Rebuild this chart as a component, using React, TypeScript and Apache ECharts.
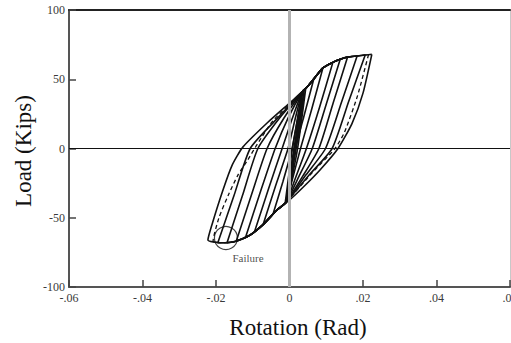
import { useEffect, useRef } from "react";
import * as echarts from "echarts";

// Axis tick labels (leading zero dropped, as in the original plot)
const xTickLabels = ["-.06", "-.04", "-.02", "0", ".02", ".04", ".06"];
const yTickLabels = ["-100", "-50", "0", "50", "100"];

// Hysteresis cycles, rotation (rad) vs. load (kips)
const elasticA = [[0.004, 42], [0.0012, 0], [-0.001, -39.5], [0.0018, 0], [0.004, 42]];
const elasticB = [[0.0036, 41], [0.0008, 0], [-0.0012, -40], [0.0014, 0], [0.0036, 41]];
const elasticC = [[0.0044, 43], [0.0016, 0], [-0.0006, -38], [0.0022, 0], [0.0044, 43]];

const cycle2 = [[0.0066, 50.2], [0.004, 24], [0.0016, 0], [0.0003, -20], [-0.001, -39], [-0.0034, -44.4], [-0.0045, -47.5], [-0.0018, -24], [0.0007, 0], [0.0022, 22], [0.0035, 41], [0.0048, 44.4], [0.0066, 50.2]];
const cycle3 = [[0.0091, 58.2], [0.006, 28], [0.003, 0], [0.001, -20], [-0.001, -39], [-0.0034, -44.4], [-0.0072, -55], [-0.0038, -27], [-0.0004, 0], [0.0016, 22], [0.0035, 41], [0.0048, 44.4], [0.0066, 50.2], [0.0091, 58.2]];
const cycle4 = [[0.0118, 62.2], [0.0082, 30], [0.0046, 0], [0.0018, -20], [-0.001, -39], [-0.0034, -44.4], [-0.0072, -55], [-0.0095, -60], [-0.0057, -29], [-0.002, 0], [0.0008, 22], [0.0035, 41], [0.0048, 44.4], [0.0066, 50.2], [0.0091, 58.2], [0.0118, 62.2]];
const cycle5 = [[0.0138, 64.4], [0.01, 32], [0.0062, 0], [0.0026, -20], [-0.001, -39], [-0.0034, -44.4], [-0.0072, -55], [-0.0095, -60], [-0.012, -64.5], [-0.008, -32], [-0.0039, 0], [-0.0004, 22], [0.0035, 41], [0.0048, 44.4], [0.0066, 50.2], [0.0091, 58.2], [0.0118, 62.2], [0.0138, 64.4]];
const cycle6 = [[0.0158, 66], [0.0119, 33], [0.008, 0], [0.0036, -20], [-0.001, -39], [-0.0034, -44.4], [-0.0072, -55], [-0.0107, -62.5], [-0.0145, -67], [-0.0103, -33], [-0.0061, 0], [-0.0015, 22], [0.0035, 41], [0.0048, 44.4], [0.0066, 50.2], [0.0091, 58.2], [0.0118, 62.2], [0.0138, 64.4], [0.0158, 66]];
const cycle7 = [[0.0184, 66.8], [0.0141, 33], [0.0098, 0], [0.0045, -19], [-0.001, -39], [-0.0034, -44.4], [-0.0072, -55], [-0.0107, -62.5], [-0.0145, -67], [-0.017, -68], [-0.0128, -34], [-0.0086, 0], [-0.0027, 22], [0.0035, 41], [0.0048, 44.4], [0.0066, 50.2], [0.0091, 58.2], [0.0118, 62.2], [0.0138, 64.4], [0.0158, 66], [0.0184, 66.8]];
const cycle8 = [[0.0206, 67.5], [0.0161, 34], [0.0116, 0], [0.0054, -19], [-0.001, -39], [-0.0034, -44.4], [-0.0072, -55], [-0.0107, -62.5], [-0.0145, -67], [-0.017, -68], [-0.0195, -68], [-0.0151, -34], [-0.0107, 0], [-0.0036, 21], [0.0035, 41], [0.0048, 44.4], [0.0066, 50.2], [0.0091, 58.2], [0.0118, 62.2], [0.0138, 64.4], [0.0158, 66], [0.0184, 66.8], [0.0206, 67.5]];
const cycle8b = [[0.0215, 67.8], [0.0185, 38], [0.015, 12], [0.0124, 0], [0.006, -18], [-0.001, -39], [-0.0034, -44.4], [-0.0072, -55], [-0.0107, -62.5], [-0.015, -67.2], [-0.0185, -68], [-0.0208, -67], [-0.0192, -50], [-0.0167, -34], [-0.014, -19], [-0.0113, -8], [-0.0088, 3], [-0.0045, 20], [0.0035, 41], [0.0048, 44.4], [0.0066, 50.2], [0.0091, 58.2], [0.0118, 62.2], [0.0138, 64.4], [0.0158, 66], [0.0184, 66.8], [0.0215, 67.8]];
const cycle9 = [[0.0224, 68], [0.02, 40], [0.017, 18], [0.0132, 0], [0.0083, -15.5], [0.0037, -28], [0.0001, -37], [-0.0034, -44.4], [-0.0072, -55], [-0.0107, -62.5], [-0.0154, -67.5], [-0.0189, -68], [-0.0222, -66], [-0.0211, -55], [-0.0181, -30], [-0.0156, -12], [-0.0127, 1], [-0.0061, 18.4], [0.0001, 33], [0.0035, 41], [0.0048, 44.4], [0.0066, 50.2], [0.0091, 58.2], [0.0118, 62.2], [0.0138, 64.4], [0.0158, 66], [0.0184, 66.8], [0.0206, 67.5], [0.0224, 68]];

const solidCycles = [elasticA, elasticB, elasticC, cycle2, cycle3, cycle4, cycle5, cycle6, cycle7, cycle8, cycle9];

// Failure marker and its note
const failurePoint = [[-0.0173, -64.6]];
const failureNote = [[-0.0113, -79]];

const SERIF = "'Liberation Serif', 'Times New Roman', serif";

export default function App() {
  const ref = useRef<HTMLDivElement>(null);

  useEffect(() => {
    const chart = echarts.init(ref.current!, null, { renderer: "svg" });

    const loopSeries = solidCycles.map((d) => ({
      type: "line",
      data: d,
      showSymbol: false,
      smooth: 0.2,
      z: 3,
      lineStyle: { color: "#111", width: 1.6 },
    }));

    chart.setOption({
      animation: false,
      backgroundColor: "#fff",
      grid: { left: 69, right: 1, top: 10, bottom: 56, outerBoundsMode: "none", containLabel: false },
      xAxis: [
        {
          type: "value",
          min: -0.06,
          max: 0.06,
          interval: 0.02,
          position: "bottom",
          axisLine: { show: true, onZero: false, lineStyle: { color: "#555", width: 2 } },
          axisTick: { show: true, inside: true, length: 7, lineStyle: { color: "#444", width: 1.5 } },
          axisLabel: {
            fontFamily: SERIF,
            fontSize: 12,
            color: "#3a3a3a",
            margin: 5,
            hideOverlap: false,
            formatter: (v: number) => xTickLabels[Math.round((v + 0.06) / 0.02)] ?? "",
          },
          splitLine: { show: false },
        },
        {
          type: "value",
          min: -0.06,
          max: 0.06,
          interval: 0.02,
          position: "top",
          axisLine: { show: true, onZero: false, lineStyle: { color: "#222", width: 2 } },
          axisTick: { show: false },
          axisLabel: { show: false },
          splitLine: { show: false },
        },
      ],
      yAxis: [
        {
          type: "value",
          min: -100,
          max: 100,
          interval: 50,
          position: "left",
          axisLine: { show: true, onZero: false, lineStyle: { color: "#555", width: 2 } },
          axisTick: { show: true, inside: true, length: 7, lineStyle: { color: "#444", width: 1.5 } },
          axisLabel: {
            fontFamily: SERIF,
            fontSize: 12,
            color: "#3a3a3a",
            margin: 4,
            formatter: (v: number) => yTickLabels[Math.round((v + 100) / 50)] ?? "",
          },
          splitLine: { show: false },
        },
        {
          type: "value",
          min: -100,
          max: 100,
          interval: 50,
          position: "right",
          axisLine: { show: true, onZero: false, lineStyle: { color: "#c8c8c8", width: 1 } },
          axisTick: { show: false },
          axisLabel: { show: false },
          splitLine: { show: false },
        },
      ],
      series: [
        {
          type: "line",
          data: [[0, 0]],
          showSymbol: false,
          lineStyle: { width: 0 },
          z: 1,
          markLine: {
            silent: true,
            symbol: ["none", "none"],
            label: { show: false },
            data: [
              { xAxis: 0, lineStyle: { color: "#b3b3b3", width: 3, type: "solid" } },
              { yAxis: 0, lineStyle: { color: "#111", width: 1.2, type: "solid" } },
            ],
          },
        },
        ...loopSeries,
        {
          type: "line",
          data: cycle8b,
          showSymbol: false,
          smooth: 0.2,
          z: 3,
          lineStyle: { color: "#111", width: 1.3, type: [4, 3] },
        },
        {
          type: "scatter",
          data: failurePoint,
          symbol: "circle",
          symbolSize: 23,
          z: 4,
          itemStyle: { color: "rgba(0,0,0,0)", borderColor: "#111", borderWidth: 1.2 },
        },
        {
          type: "scatter",
          data: failureNote,
          symbolSize: 1,
          z: 4,
          itemStyle: { color: "rgba(0,0,0,0)" },
          label: {
            show: true,
            position: "inside",
            formatter: "Failure",
            fontFamily: SERIF,
            fontSize: 11,
            color: "#222",
          },
        },
      ],
      graphic: [
        {
          type: "text",
          x: 298,
          y: 327,
          style: {
            text: "Rotation (Rad)",
            fontFamily: SERIF,
            fontSize: 23,
            fill: "#111",
            align: "center",
            verticalAlign: "middle",
          },
        },
        {
          type: "text",
          x: 23,
          y: 151,
          rotation: Math.PI / 2,
          style: {
            text: "Load (Kips)",
            fontFamily: SERIF,
            fontSize: 23,
            fill: "#111",
            align: "center",
            verticalAlign: "middle",
          },
        },
      ],
    });

    return () => chart.dispose();
  }, []);

  return (
    <div
      ref={ref}
      style={{ position: "fixed", left: 0, top: 0, width: 511, height: 343, background: "#fff" }}
    />
  );
}
